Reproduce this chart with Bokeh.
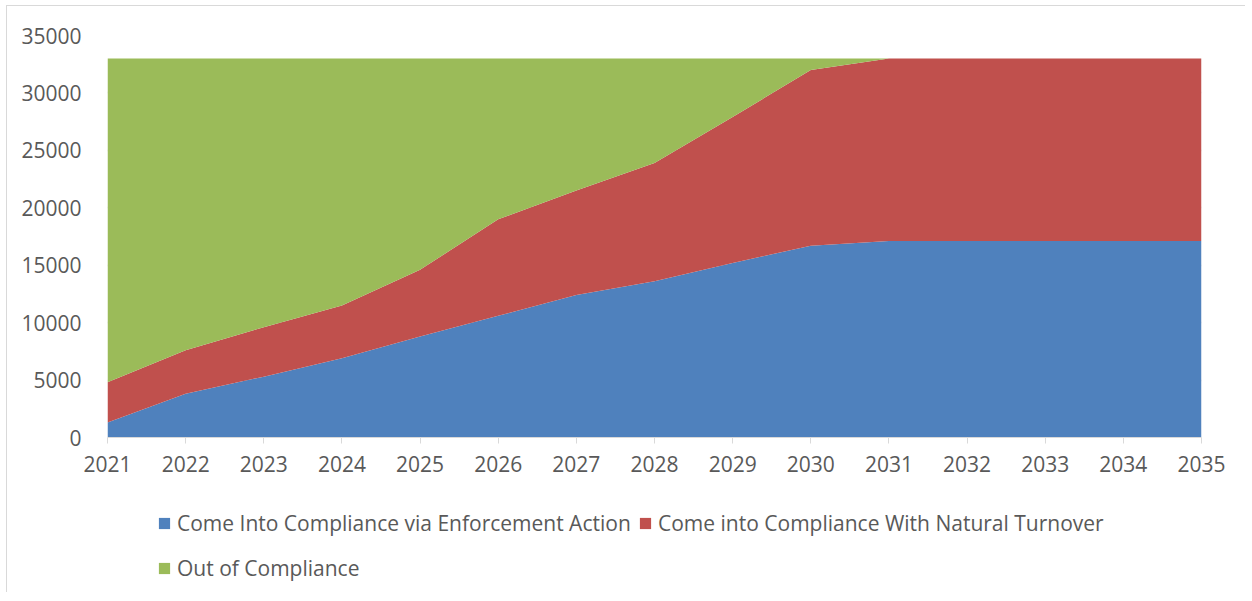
from bokeh.plotting import figure
from bokeh.models import ColumnDataSource, Legend, LegendItem, FixedTicker, Range1d
from bokeh.layouts import column
from bokeh.embed import file_html
from bokeh.resources import INLINE

years = list(range(2021, 2036))
enforcement = [1300, 3800, 5300, 6900, 8800, 10600, 12400, 13600, 15200, 16700, 17100, 17100, 17100, 17100, 17100]
natural = [3500, 3800, 4300, 4600, 5800, 8400, 9100, 10300, 12700, 15300, 15900, 15900, 15900, 15900, 15900]
out_of = [28200, 25400, 23400, 21500, 18400, 14000, 11500, 9100, 5100, 1000, 0, 0, 0, 0, 0]
series_names = ["Come Into Compliance via Enforcement Action",
                "Come into Compliance With Natural Turnover",
                "Out of Compliance"]
colors = ["#4F81BD", "#C0504D", "#9BBB59"]
y_ticks = [0, 5000, 10000, 15000, 20000, 25000, 30000, 35000]

FONT = "Open Sans"
W = 1238
H1 = 481
H2 = 105

p = figure(width=W, height=H1, output_backend="svg", toolbar_location=None,
           x_range=Range1d(2021, 2035), y_range=Range1d(0, 35000),
           min_border_left=100, min_border_right=44, min_border_top=29, min_border_bottom=50)
p.outline_line_color = None

src = ColumnDataSource(dict(x=years, a=enforcement, b=natural, c=out_of))
p.varea_stack(["a", "b", "c"], x="x", source=src, color=colors)

p.xaxis.ticker = FixedTicker(ticks=years)
p.yaxis.ticker = FixedTicker(ticks=y_ticks)
p.xaxis.major_label_overrides = {y: str(y) for y in years}
for ax in (p.xaxis, p.yaxis):
    ax.major_label_text_font = FONT
    ax.major_label_text_font_size = "21px"
    ax.major_label_text_color = "#595959"
    ax.minor_tick_line_color = None
p.xaxis.axis_line_color = "#d9d9d9"
p.xaxis.major_tick_line_color = "#d9d9d9"
p.xaxis.major_tick_in = 0
p.xaxis.major_tick_out = 6
p.xaxis.major_label_standoff = 12
p.yaxis.axis_line_color = None
p.yaxis.major_tick_line_color = None
p.yaxis.major_label_standoff = 20
p.xgrid.grid_line_color = None
p.ygrid.grid_line_color = "#d9d9d9"
p.ygrid.grid_line_width = 1.5

# legend figure (frame is aligned with the chart's frame by the column)
p2 = figure(width=W, height=H2, output_backend="svg", toolbar_location=None,
            x_range=Range1d(0, 1), y_range=Range1d(0, 1),
            min_border_left=0, min_border_right=0, min_border_top=0, min_border_bottom=0)
p2.axis.visible = False
p2.grid.visible = False
p2.outline_line_color = None

positions = [(50, 55), (531, 55), (50, 10)]
for name, col, pos in zip(series_names, colors, positions):
    dummy = p2.varea(x=[-10, -9], y1=[0, 0], y2=[0, 0], fill_color=col)
    lg = Legend(items=[LegendItem(label=name, renderers=[dummy])], location=pos,
                orientation="horizontal", padding=0, margin=0, spacing=0,
                glyph_width=14, glyph_height=14, label_standoff=6, label_height=14,
                border_line_color=None, background_fill_alpha=0,
                label_text_font=FONT, label_text_font_size="21px",
                label_text_color="#595959")
    p2.add_layout(lg, "center")

layout = column(p, p2, spacing=0,
                styles={"margin-left": "6px", "margin-top": "5px",
                        "border-left": "1px solid #d9d9d9", "border-top": "1px solid #d9d9d9"})
open("out.html", "w").write(file_html(layout, INLINE))
